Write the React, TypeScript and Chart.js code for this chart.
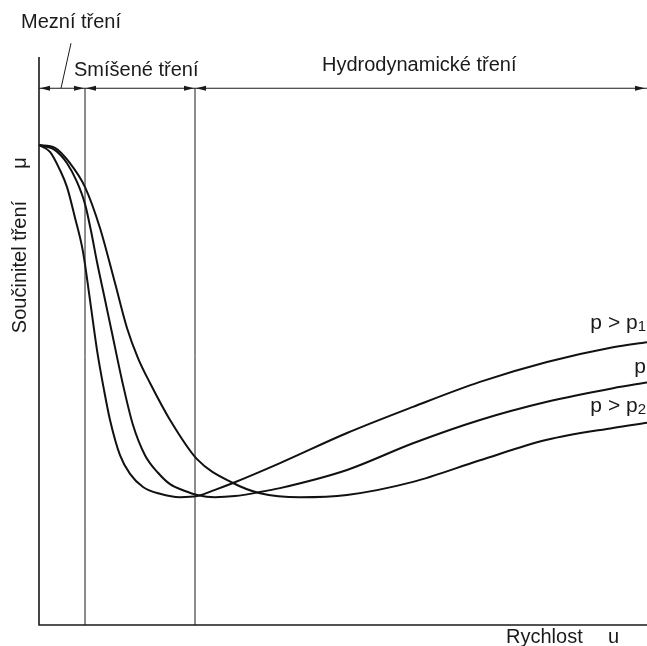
import React, { useEffect, useRef } from "react";
import { Chart, registerables } from "chart.js";

Chart.register(...registerables);

// Curve p > p1 (speed u, friction coefficient μ) – normalised units
const uP1 = [0, 0.181, 0.345, 0.461, 0.592, 0.724, 0.839, 0.954, 1.069, 1.168, 1.332, 1.497, 1.711, 1.99, 2.319, 2.599, 2.895, 3.191, 3.964, 5.066, 6.151, 7.253, 8.355, 9.441, 10];
const muP1 = [0.845, 0.833, 0.801, 0.771, 0.717, 0.657, 0.572, 0.484, 0.414, 0.361, 0.299, 0.266, 0.243, 0.231, 0.225, 0.227, 0.238, 0.25, 0.285, 0.338, 0.384, 0.428, 0.463, 0.489, 0.498];

// Curve p
const uP = [0, 0.263, 0.461, 0.625, 0.757, 0.855, 0.954, 1.069, 1.201, 1.365, 1.546, 1.743, 1.957, 2.155, 2.401, 2.599, 2.895, 3.224, 3.635, 3.964, 5.066, 6.151, 7.253, 8.355, 9.441, 10];
const muP = [0.845, 0.836, 0.813, 0.78, 0.741, 0.694, 0.639, 0.581, 0.514, 0.431, 0.352, 0.299, 0.268, 0.248, 0.236, 0.229, 0.225, 0.227, 0.234, 0.241, 0.273, 0.32, 0.361, 0.393, 0.417, 0.427];

// Curve p > p2
const uP2 = [0, 0.263, 0.51, 0.757, 1.003, 1.25, 1.447, 1.628, 1.826, 2.155, 2.599, 3.191, 3.635, 4.293, 5.066, 6.151, 7.253, 8.355, 9.441, 10];
const muP2 = [0.845, 0.84, 0.813, 0.771, 0.699, 0.602, 0.523, 0.47, 0.426, 0.361, 0.292, 0.25, 0.232, 0.225, 0.229, 0.252, 0.29, 0.326, 0.347, 0.356];

// Regime boundaries on the speed axis
const regimeBounds = [0.757, 2.566];
const regimeLabels = ["Mezní tření", "Smíšené tření", "Hydrodynamické tření"];
const curveLabels = ["p > p", "p", "p > p"];
const curveSubs = ["1", "", "2"];
const axisLabelY = "Součinitel tření";
const axisSymbolY = "μ";
const axisLabelX = "Rychlost";
const axisSymbolX = "u";
const regimeArrowMu = 0.945;

const FONT = "'Liberation Sans', Arial, Helvetica, sans-serif";

function toPts(xs: number[], ys: number[]) {
  return xs.map((x, i) => ({ x, y: ys[i] }));
}

const decorPlugin = {
  id: "decor",
  afterDatasetsDraw(chart: any) {
    const ctx = chart.ctx as CanvasRenderingContext2D;
    const xs = chart.scales.x;
    const ys = chart.scales.y;
    const left = xs.getPixelForValue(0);
    const right = xs.getPixelForValue(10);
    const bottom = ys.getPixelForValue(0);
    const top = ys.getPixelForValue(1);
    const arrowY = ys.getPixelForValue(regimeArrowMu);
    const bx = regimeBounds.map((b) => xs.getPixelForValue(b));
    ctx.save();
    ctx.strokeStyle = "#1a1a1a";
    ctx.fillStyle = "#1a1a1a";
    // axes
    ctx.lineWidth = 1.6;
    ctx.beginPath();
    ctx.moveTo(left, top);
    ctx.lineTo(left, bottom);
    ctx.lineTo(right, bottom);
    ctx.stroke();
    // regime verticals
    ctx.lineWidth = 1;
    bx.forEach((x) => {
      ctx.beginPath();
      ctx.moveTo(x, arrowY);
      ctx.lineTo(x, bottom);
      ctx.stroke();
    });
    // arrow line
    ctx.lineWidth = 1.2;
    ctx.beginPath();
    ctx.moveTo(left, arrowY);
    ctx.lineTo(right, arrowY);
    ctx.stroke();
    const head = (tip: number, dir: number) => {
      ctx.beginPath();
      ctx.moveTo(tip, arrowY);
      ctx.lineTo(tip - dir * 10, arrowY - 2.5);
      ctx.lineTo(tip - dir * 10, arrowY + 2.5);
      ctx.closePath();
      ctx.fill();
    };
    const edges = [left, ...bx, right - 1];
    for (let i = 0; i < edges.length - 1; i++) {
      head(edges[i] + 1, -1);
      head(edges[i + 1] - 1, 1);
    }
    // leader line for boundary friction
    ctx.lineWidth = 1;
    ctx.beginPath();
    ctx.moveTo(left + 22, arrowY);
    ctx.lineTo(left + 32, arrowY - 45);
    ctx.stroke();
    // texts
    ctx.font = `20px ${FONT}`;
    ctx.textBaseline = "alphabetic";
    ctx.textAlign = "left";
    ctx.fillText(regimeLabels[0], 21, 28);
    ctx.fillText(regimeLabels[1], bx[0] - 11, arrowY - 12);
    ctx.fillText(regimeLabels[2], 322, arrowY - 17);
    // curve labels
    const ends = [muP1[muP1.length - 1], muP[muP.length - 1], muP2[muP2.length - 1]];
    const offs = [-13, -9, -11];
    curveLabels.forEach((t, i) => {
      const yb = ys.getPixelForValue(ends[i]) + offs[i];
      const sub = curveSubs[i];
      ctx.font = `15px ${FONT}`;
      const sw = sub ? ctx.measureText(sub).width : 0;
      ctx.font = `21px ${FONT}`;
      const w = ctx.measureText(t).width;
      const x0 = right - 1 - sw - w;
      ctx.fillText(t, x0, yb);
      if (sub) {
        ctx.font = `15px ${FONT}`;
        ctx.fillText(sub, x0 + w, yb + 2);
      }
    });
    // axis labels
    ctx.font = `20px ${FONT}`;
    ctx.fillText(axisLabelX, 506, 643);
    ctx.fillText(axisSymbolX, 608, 643);
    ctx.save();
    ctx.translate(26, 267);
    ctx.rotate(-Math.PI / 2);
    ctx.textAlign = "center";
    ctx.fillText(axisLabelY, 0, 0);
    ctx.restore();
    ctx.save();
    ctx.translate(26, 163);
    ctx.rotate(-Math.PI / 2);
    ctx.textAlign = "center";
    ctx.fillText(axisSymbolY, 0, 0);
    ctx.restore();
    ctx.restore();
  },
};

export default function App() {
  const ref = useRef<HTMLCanvasElement | null>(null);
  useEffect(() => {
    if (!ref.current) return;
    const line = { borderColor: "#111", borderWidth: 2, pointRadius: 0, fill: false, cubicInterpolationMode: "monotone" as const, clip: false as any };
    const chart = new Chart(ref.current, {
      type: "line",
      data: {
        datasets: [
          { label: "p > p1", data: toPts(uP1, muP1), ...line },
          { label: "p", data: toPts(uP, muP), ...line },
          { label: "p > p2", data: toPts(uP2, muP2), ...line },
        ],
      },
      options: {
        animation: false,
        responsive: false,
        devicePixelRatio: 1,
        layout: { padding: { left: 39, top: 57, right: 0, bottom: 21 } },
        scales: {
          x: { type: "linear", min: 0, max: 10, display: false },
          y: { type: "linear", min: 0, max: 1, display: false },
        },
        plugins: { legend: { display: false }, tooltip: { enabled: false }, title: { display: false } },
        events: [],
      },
      plugins: [decorPlugin],
    });
    return () => chart.destroy();
  }, []);
  return (
    <div style={{ position: "fixed", left: 0, top: 0, width: 647, height: 646, background: "#fff" }}>
      <canvas ref={ref} width={647} height={646} style={{ display: "block" }} />
    </div>
  );
}
